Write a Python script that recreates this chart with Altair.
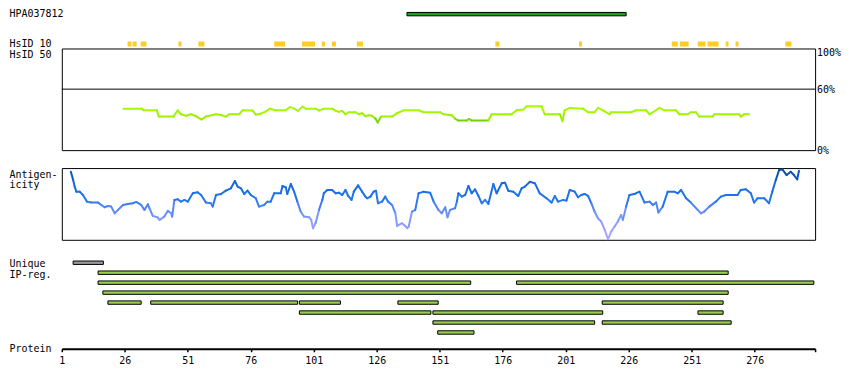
import altair as alt
import pandas as pd

FONT = "DejaVu Sans Mono"
RES_MIN, RES_MAX = 1, 300
PLOT_W = 756
LEFT = 53

# ---- antigen (HPA) ----
antigen_name = "HPA037812"
antigen_start = [138]
antigen_end = [225]

# ---- HsID 10 identity blocks (residue ranges) ----
hsid10_start = [27.1, 29.1, 32.3, 47.3, 55.2, 85.3, 96.3, 104.2, 108.2, 118.1,
                173.1, 206.3, 243.1, 246.3, 253.4, 257.3, 264.5, 268.4, 288.2]
hsid10_end = [28.7, 30.7, 34.6, 48.5, 57.6, 89.6, 101.5, 105.4, 109.8, 120.5,
              174.7, 207.5, 245.5, 249.8, 256.5, 261.7, 265.6, 269.6, 290.6]

# ---- HsID 50 curve (% identity) ----
hsid50_res = [25.5, 32.9, 33.4, 38.7, 39.5, 45.3, 47.0, 48.3, 50.3, 52.3, 54.3, 56.5, 58.2, 62.2, 64.2,
              66.1, 67.5, 71.4, 72.7, 76.7, 78.0, 80.0, 82.0, 83.6, 85.9, 89.9, 91.5, 93.2, 94.8, 96.5,
              97.8, 101.8, 103.1, 105.0, 108.3, 109.7, 111.0, 112.3, 113.6, 114.9, 117.6, 118.9, 120.2,
              121.5, 122.8, 124.1, 125.5, 126.4, 127.7, 132.1, 134.0, 136.7, 142.6, 144.6, 151.2, 152.5,
              155.8, 157.1, 158.4, 161.7, 162.7, 163.7, 170.3, 171.6, 179.5, 181.5, 184.2, 185.5, 191.4,
              192.7, 198.7, 199.7, 200.6, 202.6, 207.9, 209.9, 212.5, 213.8, 215.8, 218.4, 219.1, 227.0,
              229.0, 232.9, 234.3, 235.6, 238.2, 240.2, 244.8, 246.1, 249.4, 250.7, 252.7, 254.0, 259.3,
              260.0, 269.9, 270.5, 271.8, 273.8]
hsid50_pct = [40.8, 40.8, 39.2, 39.2, 33.0, 33.0, 39.2, 35.3, 33.9, 35.3, 33.3, 30.1, 33.0, 35.3, 34.6,
              33.0, 35.3, 35.3, 39.2, 38.9, 34.9, 35.9, 38.2, 40.8, 39.2, 39.2, 42.5, 40.8, 38.6, 42.8,
              40.8, 40.8, 38.9, 40.8, 40.8, 38.6, 37.6, 38.6, 35.3, 37.3, 37.3, 35.3, 36.3,
              33.3, 34.3, 33.9, 31.0, 27.1, 33.0, 33.0, 36.3, 39.2, 39.2, 37.3, 37.3, 35.3,
              34.3, 31.0, 29.1, 29.1, 30.7, 29.1, 29.1, 35.3, 35.3, 39.2, 39.9, 43.1, 43.1,
              35.3, 35.3, 28.4, 39.2, 41.5, 40.8, 37.3, 37.3, 41.5, 39.2, 35.3, 37.3, 37.3,
              39.2, 39.2, 35.3, 37.3, 41.5, 39.2, 39.2, 35.3, 35.3, 37.3, 37.3, 33.0, 33.0,
              35.3, 35.3, 33.0, 35.3, 35.3]

# ---- Antigenicity curve (relative score 0-100) ----
antigen_res = [4.6, 5.5, 6.1, 6.8, 8.1, 9.4, 11.0, 12.7, 15.4, 16.7, 18.0, 19.3, 20.6, 22.0, 23.3, 25.3,
               27.2, 29.2, 30.5, 32.5, 33.8, 35.2, 35.8, 37.1, 39.1, 39.8, 41.7, 43.1, 44.4, 44.8, 45.7,
               47.0, 48.3, 49.7, 51.0, 53.0, 54.9, 56.3, 58.2, 60.2, 60.9, 62.2, 64.2, 66.1, 68.1, 69.7,
               70.8, 72.1, 73.4, 74.7, 76.0, 78.0, 79.3, 81.3, 82.6, 83.9, 85.3, 87.9, 88.6, 89.9, 90.5,
               91.9, 93.2, 94.5, 95.8, 97.1, 99.1, 100.0, 100.7, 101.7, 103.1, 104.4, 105.0, 106.4, 108.3,
               109.7, 111.0, 112.3, 113.6, 114.7, 116.0, 116.9, 118.6, 120.2, 121.5, 122.2, 123.5, 124.8,
               125.7, 126.5, 128.1, 129.4, 130.5, 132.1, 133.4, 134.1, 136.0, 137.3, 138.0, 138.7, 140.0,
               141.3, 142.6, 144.6, 147.2, 148.6, 150.5, 151.8, 153.2, 154.1, 155.1, 157.1, 157.8, 158.4,
               159.8, 161.1, 162.4, 163.7, 165.0, 166.4, 167.7, 169.0, 170.3, 172.3, 173.6, 175.6, 176.9,
               178.2, 180.2, 182.2, 183.5, 184.8, 186.8, 188.8, 190.7, 193.4, 195.4, 196.7, 198.0, 200.0,
               201.3, 202.6, 204.6, 205.9, 207.2, 208.5, 209.9, 211.2, 212.5, 213.8, 215.1, 216.5, 217.8,
               219.1, 220.4, 221.7, 223.0, 223.7, 225.0, 226.3, 228.3, 230.3, 232.3, 234.3, 235.6, 236.9,
               237.8, 239.5, 241.5, 244.1, 245.5, 246.8, 248.8, 250.7, 253.4, 254.7, 256.0, 258.0, 260.6,
               262.6, 264.6, 266.6, 269.2, 270.5, 272.5, 274.5, 275.8, 277.1, 279.8, 281.7, 283.0, 284.4,
               285.7, 287.0, 288.7, 290.3, 291.6, 292.9, 293.6]
antigen_val = [94.9, 83.3, 74.1, 67.1, 67.1, 62.5, 53.2, 51.9, 51.9, 48.6, 45.4, 47.2, 46.3, 37.0, 41.7, 48.6,
               50.0, 50.9, 52.8, 48.6, 41.7, 49.5, 44.0, 33.3, 31.0, 27.8, 32.4, 40.3, 37.0, 32.4, 55.6,
               56.5, 53.2, 55.6, 53.2, 64.8, 66.2, 62.5, 51.9, 50.9, 46.3, 62.5, 63.9, 68.5, 71.8, 81.9,
               74.1, 71.8, 63.9, 68.5, 62.5, 57.9, 46.3, 48.6, 53.2, 53.2, 64.8, 64.8, 75.0, 73.1, 63.9,
               77.8, 67.1, 53.2, 39.4, 32.4, 31.5, 27.8, 16.2, 23.1, 41.7, 55.6, 64.8, 69.4, 69.4,
               64.8, 65.7, 62.5, 69.4, 61.1, 55.6, 67.1, 75.9, 67.1, 60.2, 57.9, 60.2, 67.1,
               68.5, 50.9, 53.2, 60.2, 53.2, 48.6, 37.0, 19.4, 23.1, 19.4, 16.2, 18.5, 39.4,
               41.7, 64.8, 67.1, 65.7, 53.2, 41.7, 37.0, 45.4, 31.5, 41.7, 44.0, 53.2, 64.8,
               60.2, 62.5, 75.0, 64.8, 70.4, 61.1, 50.9, 55.6, 50.0, 77.8, 64.8, 78.7, 79.6,
               68.5, 67.1, 61.1, 71.8, 74.1, 81.0, 78.7, 64.8, 57.9, 51.9, 61.1, 53.2, 55.6,
               54.6, 69.4, 67.1, 59.3, 62.5, 63.9, 61.1, 50.9, 39.4, 30.1, 25.5, 13.9, 0.9,
               11.6, 18.5, 25.5, 34.7, 27.8, 46.3, 62.5, 63.9, 67.1, 51.9, 53.2, 48.6, 51.9,
               38.0, 46.3, 67.1, 67.1, 64.8, 69.4, 57.9, 51.9, 41.7, 37.0, 39.4, 46.3, 53.2,
               60.2, 62.5, 62.5, 62.5, 69.4, 70.4, 64.8, 51.9, 57.9, 57.9, 50.9, 67.1, 83.3,
               97.2, 98.1, 90.3, 94.9, 90.3, 84.3, 96.3]

# ---- Unique / IP-reg regions ----
ipreg_lane = [0, 1, 2, 2, 3, 4, 4, 4, 4, 4, 5, 5, 5, 6, 6, 7]
ipreg_start = [5.5, 15.4, 15.4, 181.5, 17.3, 19.3, 36.3, 95.3, 134.4, 215.5, 95.3, 148.3, 253.5, 148.3, 215.5, 150.2]
ipreg_end = [17.5, 265.5, 163.3, 299.5, 265.5, 32.5, 94.6, 111.6, 150.4, 263.5, 147.5, 215.7, 263.5, 212.5, 266.7, 164.6]
ipreg_kind = ["unique"] + ["ip"] * 15

tick_values = [1, 26, 51, 76, 101, 126, 151, 176, 201, 226, 251, 276, 300]
pct_labels = [100, 60, 0]


def segments(res, val):
    return pd.DataFrame({
        "x0": res[:-1], "x1": res[1:],
        "y0": val[:-1], "y1": val[1:],
        "v": [(a + b) / 2 for a, b in zip(val[:-1], val[1:])],
    })


xs = alt.Scale(domain=[RES_MIN, RES_MAX], nice=False, zero=False)
title_common = dict(titleAngle=0, titleAlign="left", titleBaseline="top", titleX=-LEFT, titleY=1,
                    titleFont=FONT, titleFontSize=10, titleFontWeight="normal", titleColor="black",
                    labels=False, ticks=False, domain=False, grid=False)

# ---------- Panel AB: antigen + HsID 10 ----------
track_domain = [antigen_name, "HsID 10"]
track_y = alt.Y("track:N",
                scale=alt.Scale(domain=track_domain, range=[0.5, 40.5], paddingInner=2 / 3, paddingOuter=0),
                axis=alt.Axis(title=None, domain=False, ticks=False, tickSize=0, grid=False,
                              labelAlign="left", labelBaseline="middle", labelPadding=LEFT,
                              labelFont=FONT, labelFontSize=10, labelColor="black"))

hpa_df = pd.DataFrame({"track": [antigen_name], "start": antigen_start, "end": antigen_end})
hpa = alt.Chart(hpa_df).mark_bar(height=3.4, color="#1f9f1f", stroke="black", strokeWidth=1).encode(
    x=alt.X("start:Q", scale=xs, axis=None), x2="end:Q", y=track_y)

hs10_df = pd.DataFrame({"track": ["HsID 10"] * len(hsid10_start), "start": hsid10_start, "end": hsid10_end})
hs10 = alt.Chart(hs10_df).mark_bar(height=5, color="#ffcc22").encode(
    x=alt.X("start:Q", scale=xs, axis=None), x2="end:Q", y=track_y)

panel_ab = alt.layer(hpa, hs10).properties(width=PLOT_W, height=22)

# ---------- Panel C: HsID 50 ----------
pct_scale = alt.Scale(domain=[0, 100], nice=False)
c_axis = alt.Axis(title="HsID 50", **title_common)

rule60 = alt.Chart(pd.DataFrame({"pct": [60]})).mark_rule(color="black", strokeWidth=1).encode(
    y=alt.Y("pct:Q", scale=pct_scale, axis=c_axis))

seg50 = alt.Chart(segments(hsid50_res, hsid50_pct)).mark_rule(strokeWidth=2, strokeCap="round").encode(
    x=alt.X("x0:Q", scale=xs, axis=None), x2="x1:Q",
    y=alt.Y("y0:Q", scale=pct_scale, axis=c_axis), y2="y1:Q",
    color=alt.Color("v:Q", scale=alt.Scale(domain=[28, 31.5, 44], range=["#5fc400", "#9cee00", "#aaff00"]),
                    legend=None))

pct_df = pd.DataFrame({"pct": pct_labels, "label": [f"{p}%" for p in pct_labels]})
lbl_top = alt.Chart(pct_df).transform_filter("datum.pct == 100").mark_text(
    align="left", baseline="top", dx=2, dy=0, font=FONT, fontSize=10, color="black").encode(
    x=alt.XDatum(RES_MAX, scale=xs, axis=None),
    y=alt.Y("pct:Q", scale=pct_scale, axis=c_axis), text="label:N")
lbl_rest = alt.Chart(pct_df).transform_filter("datum.pct < 100").mark_text(
    align="left", baseline="middle", dx=2, dy=0.5, font=FONT, fontSize=10, color="black").encode(
    x=alt.XDatum(RES_MAX, scale=xs, axis=None),
    y=alt.Y("pct:Q", scale=pct_scale, axis=c_axis), text="label:N")

panel_c = alt.layer(rule60, seg50, lbl_top, lbl_rest).properties(
    width=PLOT_W, height=102, view=alt.ViewBackground(stroke="black", strokeWidth=1))

# ---------- Panel D: Antigenicity ----------
d_axis = alt.Axis(title=["Antigen-", "icity"], titleLineHeight=10.5, **title_common)
seg_ag = alt.Chart(segments(antigen_res, antigen_val)).mark_rule(strokeWidth=2, strokeCap="round").encode(
    x=alt.X("x0:Q", scale=xs, axis=None), x2="x1:Q",
    y=alt.Y("y0:Q", scale=alt.Scale(domain=[0, 100], nice=False), axis=d_axis), y2="y1:Q",
    color=alt.Color("v:Q", scale=alt.Scale(domain=[0, 30, 55, 80, 100],
                                           range=["#b4a8ff", "#7f99ff", "#2277ee", "#1166dd", "#0b4a96"]),
                    legend=None))
panel_d = seg_ag.properties(width=PLOT_W, height=72,
                            view=alt.ViewBackground(stroke="black", strokeWidth=1))

# ---------- Panel E: Unique / IP-reg + protein axis ----------
ip_df = pd.DataFrame({"lane": ipreg_lane, "start": ipreg_start, "end": ipreg_end, "kind": ipreg_kind})
e_axis = alt.Axis(title=["Unique", "IP-reg."], titleLineHeight=10.5, **title_common)
x_axis = alt.Axis(values=tick_values, labelExpr="datum.value == 300 ? '' : datum.label",
                  title="Protein", titleX=-LEFT, titleY=0, titleAngle=0, titleAlign="left",
                  titleBaseline="middle", titleFont=FONT, titleFontSize=10, titleFontWeight="normal",
                  titleColor="black", offset=11.3, domainWidth=2, domainColor="black",
                  tickColor="black", tickWidth=1.5, tickSize=3, labelPadding=4, labelFlush=False,
                  labelFont=FONT, labelFontSize=10, labelColor="black", grid=False)
panel_e = alt.Chart(ip_df).mark_bar(height=3.4, stroke="black", strokeWidth=1).encode(
    x=alt.X("start:Q", scale=xs, axis=x_axis), x2="end:Q",
    y=alt.Y("lane:O", scale=alt.Scale(domain=list(range(8)), paddingInner=0, paddingOuter=0), axis=e_axis),
    color=alt.Color("kind:N", scale=alt.Scale(domain=["unique", "ip"], range=["#999999", "#99cc55"]),
                    legend=None)
).properties(width=PLOT_W, height=80)

chart = alt.vconcat(panel_ab, panel_c, panel_d, panel_e, spacing=18, bounds="flush").properties(
    padding=0, background="white"
).configure(font=FONT).configure_view(strokeWidth=0)

chart.save("out.html", embed_options={"renderer": "svg", "actions": False})
